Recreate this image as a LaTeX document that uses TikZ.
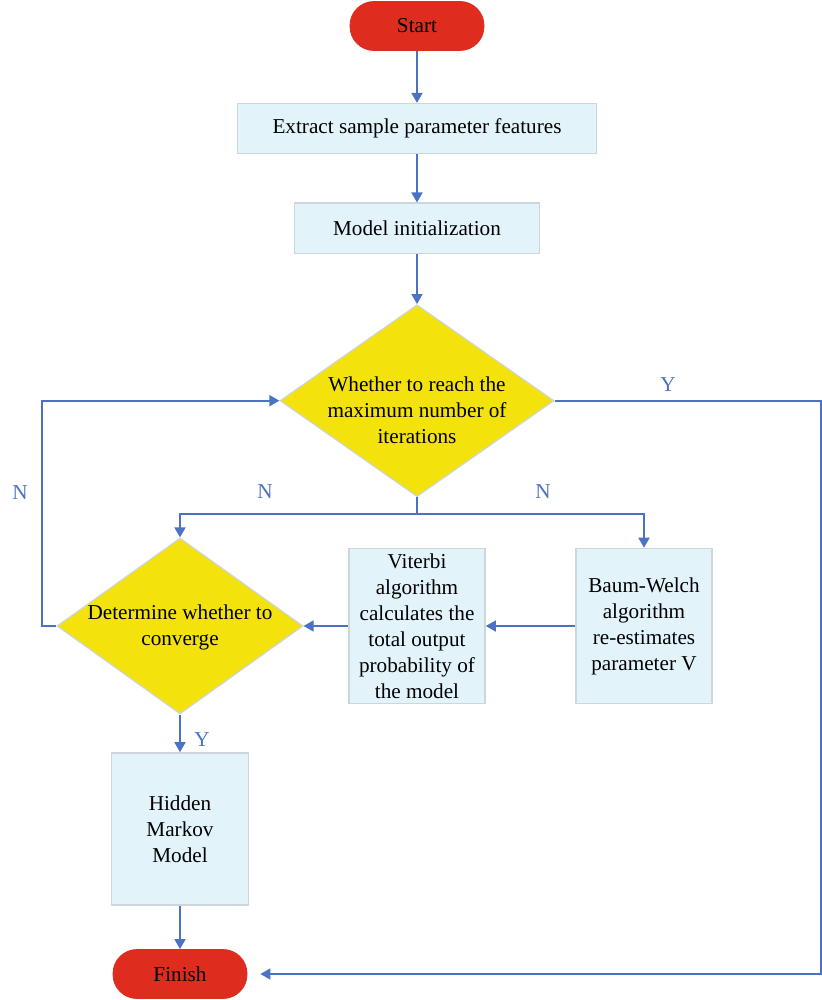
\documentclass[tikz,border=0pt]{standalone}
\usepackage{fontspec}
\setmainfont{Liberation Serif}
\usepackage{tikz}
\usetikzlibrary{positioning,shapes.geometric,arrows.meta}

\definecolor{termred}{HTML}{DE2D1F}
\definecolor{boxfill}{HTML}{E2F3FA}
\definecolor{boxline}{HTML}{CCD6DB}
\definecolor{condfill}{HTML}{F3E20B}
\definecolor{flowblue}{HTML}{4B72C4}

\tikzset{
    terminal/.style={draw=termred, fill=termred, rounded corners=12pt,
        minimum width=67pt, minimum height=24.5pt, inner sep=0pt},
    stepbox/.style={draw=boxline, fill=boxfill, line width=0.8pt,
        minimum height=25pt, inner sep=0pt, align=center},
    tallbox/.style={stepbox, minimum width=68pt, minimum height=77.5pt},
    cond/.style={diamond, draw=boxline, fill=condfill, line width=0.6pt,
        inner sep=0pt},
    condtext/.style={align=center, inner sep=0pt},
    flow/.style={draw=flowblue, line width=0.8pt,
        -{Triangle[length=5pt,width=5.5pt]}},
    lbl/.style={text=flowblue, inner sep=0pt},
}

\begin{document}
\begin{tikzpicture}[x=0.5pt,y=-0.5pt,node distance=26pt,
    font=\fontsize{10.6}{13}\selectfont]
    \useasboundingbox (0,0) rectangle (822,1000);
    \node[terminal]                           (start)   at (417,26) {Start};
    \node[stepbox,minimum width=179.5pt,below=of start]      (extract) {Extract sample parameter features};
    \node[stepbox,minimum width=122.5pt,below=24pt of extract] (init)  {Model initialization};
    \node[cond,minimum width=137pt,minimum height=96pt,below=25pt of init,
        label={[condtext,yshift=-5pt]center:Whether to reach the\\maximum number of\\iterations}] (maxiter) {};
    \node[cond,minimum width=123pt,minimum height=88pt,
        label={[condtext,yshift=-0.5pt]center:Determine whether to\\converge}] (converge) at (180,626) {};
    \node[tallbox]                            (viterbi) at (417,626)
        {Viterbi\\algorithm\\calculates the\\total output\\probability of\\the model};
    \node[tallbox]                            (baum)    at (644,626)
        {Baum-Welch\\algorithm\\re-estimates\\parameter V};
    \node[tallbox,minimum width=68.5pt,minimum height=76pt] (hmm) at (180,829)
        {Hidden\\Markov\\Model};
    \node[terminal]                           (finish)  at (180,974) {Finish};
    %
    \coordinate (split) at (417,514);
    \coordinate (edge)  at (821,0);
    \coordinate (yturn) at (maxiter.east -| edge);
    \coordinate (nturn) at (42,626);
    %
    \draw[flow] (start)   -- (extract);
    \draw[flow] (extract) -- (init);
    \draw[flow] (init)    -- (maxiter);
    \draw[flow] (maxiter.south) -- (split) -| (converge.north);
    \draw[flow] (split) -| (baum.north);
    \draw[flow] (baum.west)    -- (viterbi.east);
    \draw[flow] (viterbi.west) -- (converge.east);
    \draw[flow] (converge.west) -- (nturn) |- (maxiter.west);
    \draw[flow] (converge.south) -- (hmm.north);
    \draw[flow] (hmm.south) -- (finish.north);
    \draw[flow,shorten >=6.5pt] (maxiter.east) -- (yturn) |- (finish.east);
    %
    \node[lbl] (ymax)  at (668,385) {Y};
    \node[lbl] (nleft) at (20,493)  {N};
    \node[lbl] (nmid)  at (265,492) {N};
    \node[lbl] (nright) at (543,492) {N};
    \node[lbl] (yconv) at (202,740) {Y};
\end{tikzpicture}
\end{document}
